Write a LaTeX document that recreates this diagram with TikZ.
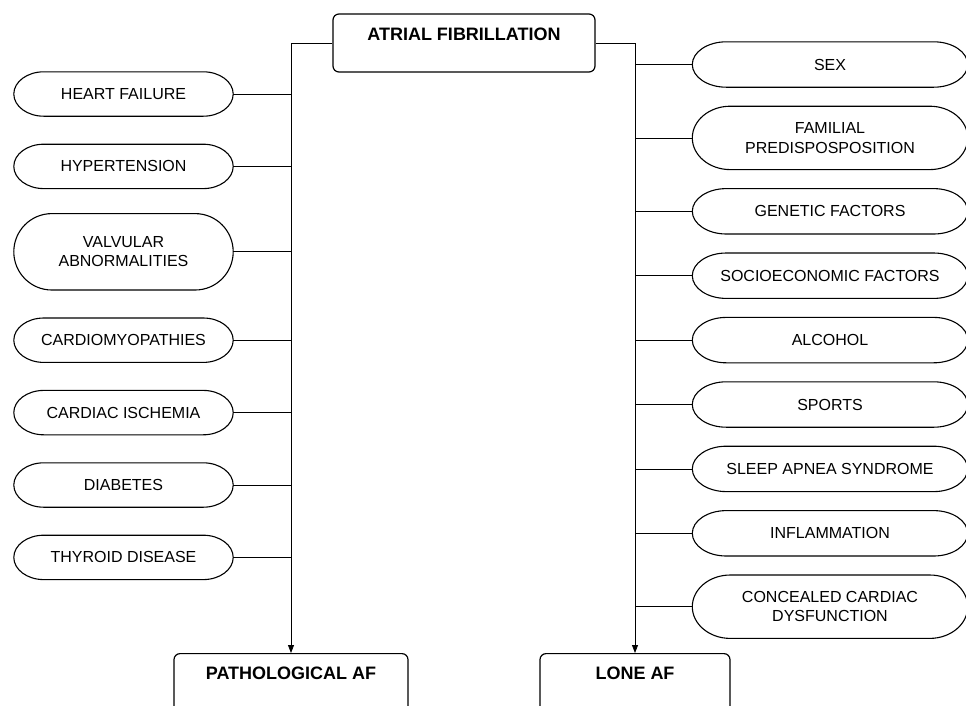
\documentclass[tikz,border=0pt]{standalone}
\usepackage{fontspec}
\setmainfont{Liberation Sans}
\usetikzlibrary{positioning, calc, arrows.meta}
\tikzstyle{mainbox} = [draw, rectangle, rounded corners=6pt, line width=1.2pt, inner xsep=0pt, inner ysep=0pt, text height=26pt, text depth=32pt, font=\bfseries\fontsize{18}{22}\selectfont]
\tikzstyle{factor} = [rectangle, inner sep=0pt, minimum height=44pt, minimum width=219pt, align=center, font=\fontsize{16}{19.5}\selectfont]
\tikzstyle{rfactor} = [factor, minimum height=45pt, minimum width=275pt]
\tikzstyle{ovalline} = [line width=1.1pt]
\tikzstyle{link} = [line width=0.8pt]
\tikzstyle{arrow} = [link, -{Triangle[length=8pt,width=6pt]}]

\begin{document}
\begin{tikzpicture}[x=1pt, y=-1pt, node distance=28pt]
\useasboundingbox (0,0) rectangle (966,705);
% Main boxes
\node (AF) [mainbox, minimum width=262pt] at (464,43) {ATRIAL FIBRILLATION};
\node (Patho) [mainbox, minimum width=234pt, anchor=north] at (291,653) {PATHOLOGICAL AF};
\node (Lone) [mainbox, minimum width=190pt, anchor=north] at (635,653) {LONE AF};

% Pathological factors
\node (HeartFailure) [factor] at (123.5,94) {HEART FAILURE};
\node (Hypertension) [factor, below=of HeartFailure] {HYPERTENSION};
\node (Valvular) [factor, below=25pt of Hypertension, minimum height=76pt] {VALVULAR\\ABNORMALITIES};
\node (Cardiomyo) [factor, below=of Valvular] {CARDIOMYOPATHIES};
\node (Ischemia) [factor, below=of Cardiomyo] {CARDIAC ISCHEMIA};
\node (Diabetes) [factor, below=of Ischemia] {DIABETES};
\node (Thyroid) [factor, below=of Diabetes] {THYROID DISEASE};

% Lone AF factors
\node (Sex) [rfactor] at (830,64.5) {SEX};
\node (Familial) [rfactor, below=19pt of Sex, minimum height=63pt] {FAMILIAL\\PREDISPOSPOSITION};
\node (Genetic) [rfactor, below=19pt of Familial] {GENETIC FACTORS};
\node (Socio) [rfactor, below=19pt of Genetic] {SOCIOECONOMIC FACTORS};
\node (Alcohol) [rfactor, below=19pt of Socio] {ALCOHOL};
\node (Sports) [rfactor, below=19pt of Alcohol] {SPORTS};
\node (Apnea) [rfactor, below=19pt of Sports] {SLEEP APNEA SYNDROME};
\node (Inflam) [rfactor, below=19pt of Apnea] {INFLAMMATION};
\node (Concealed) [rfactor, below=19pt of Inflam, minimum height=63pt] {CONCEALED CARDIAC\\DYSFUNCTION};

% Oval outlines
\foreach \n/\r in {HeartFailure/30, Hypertension/30, Valvular/38, Cardiomyo/30, Ischemia/30, Diabetes/30, Thyroid/30,
                   Sex/34, Familial/38, Genetic/34, Socio/34, Alcohol/34, Sports/34, Apnea/34, Inflam/34, Concealed/38}
  \draw [ovalline] ($(\n.north west)+(\r,0)$) -- ($(\n.north east)+(-\r,0)$)
    .. controls ($(\n.north east)+(-0.448*\r,0)$) and ($(\n.east)!0.552!(\n.north east)$) .. (\n.east)
    .. controls ($(\n.east)!0.552!(\n.south east)$) and ($(\n.south east)+(-0.448*\r,0)$) .. ($(\n.south east)+(-\r,0)$)
    -- ($(\n.south west)+(\r,0)$)
    .. controls ($(\n.south west)+(0.448*\r,0)$) and ($(\n.west)!0.552!(\n.south west)$) .. (\n.west)
    .. controls ($(\n.west)!0.552!(\n.north west)$) and ($(\n.north west)+(0.448*\r,0)$) .. cycle;

% Connectors
\draw [arrow] (AF.west) -| (Patho.north);
\draw [arrow] (AF.east) -| (Lone.north);
\foreach \n in {HeartFailure, Hypertension, Valvular, Cardiomyo, Ischemia, Diabetes, Thyroid}
  \draw [link] (\n.east) -- (\n.east -| Patho.north);
\foreach \n in {Sex, Familial, Genetic, Socio, Alcohol, Sports, Apnea, Inflam, Concealed}
  \draw [link] (\n.west) -- (\n.west -| Lone.north);
\end{tikzpicture}
\end{document}
